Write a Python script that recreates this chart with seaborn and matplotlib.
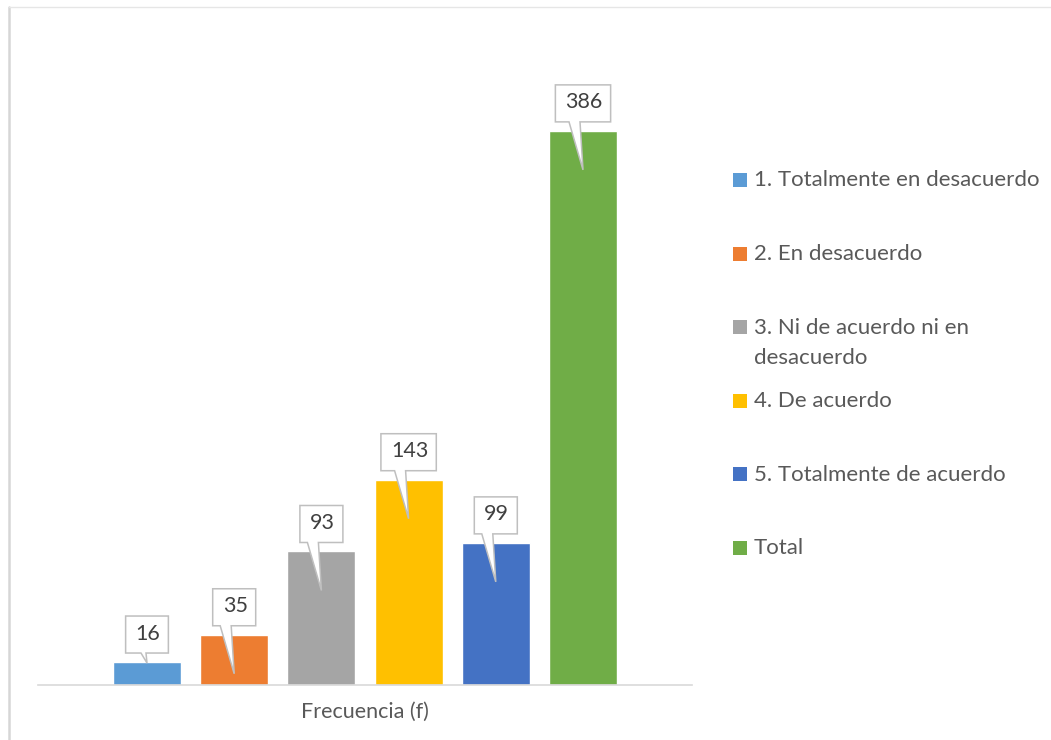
import numpy as np
import pandas as pd
import matplotlib
matplotlib.use("Agg")
import matplotlib.pyplot as plt
from matplotlib.patches import Polygon, Rectangle
from matplotlib.lines import Line2D
import seaborn as sns

# ---- data ----
categoria = "Frecuencia (f)"
respuestas = [
    "1. Totalmente en desacuerdo",
    "2. En desacuerdo",
    "3. Ni de acuerdo ni en\ndesacuerdo",
    "4. De acuerdo",
    "5. Totalmente de acuerdo",
    "Total",
]
frecuencias = [16, 35, 93, 143, 99, 386]
colores = ["#5B9BD5", "#ED7D31", "#A5A5A5", "#FFC000", "#4472C4", "#70AD47"]

sns.set_style("white")
plt.rcParams["font.family"] = ["Lato", "DejaVu Sans"]
TXT = "#595959"

W, H = 1051, 740
fig = plt.figure(figsize=(W / 100, H / 100), dpi=100)
fig.patch.set_facecolor("white")

# plot area (pixel layout)
ax_l, ax_r, ax_t, ax_b = 38, 692, 39, 685
ax = fig.add_axes([ax_l / W, (H - ax_b) / H, (ax_r - ax_l) / W, (ax_b - ax_t) / H])

df = pd.DataFrame({
    "grupo": [categoria] * len(respuestas),
    "respuesta": respuestas,
    "f": frecuencias,
})
sns.barplot(data=df, x="grupo", y="f", hue="respuesta", hue_order=respuestas,
            palette=colores, saturation=1, width=0.8, gap=0.22,
            errorbar=None, legend=False, ax=ax)

ax.set_xlim(-0.5, 0.5)
ax.set_ylim(0, 450)
ax.set_xlabel("")
ax.set_ylabel("")
ax.set_yticks([])
for s in ["top", "right", "left"]:
    ax.spines[s].set_visible(False)
ax.spines["bottom"].set_color("#D9D9D9")
ax.spines["bottom"].set_linewidth(1.2)
ax.tick_params(axis="x", length=0, pad=12, labelsize=15.5, labelcolor=TXT)
ax.set_facecolor("none")

# ---- callout data labels ----
fig.canvas.draw()
renderer = fig.canvas.get_renderer()
inv = fig.transFigure.inverted()
y0_px = ax.transData.transform((0, 0))[1]

bars = [p for p in ax.patches if p.get_height() > 0]
bars = sorted(bars, key=lambda p: p.get_x())
for bar, val in zip(bars, frecuencias):
    cx = bar.get_x() + bar.get_width() / 2
    px, py = ax.transData.transform((cx, bar.get_height()))
    yb = py + 9
    bh = 37
    t = fig.text(0, 0, f"{val}", fontsize=15.5, color="#404040",
                 ha="center", va="center", zorder=6)
    t.set_position(inv.transform((px + 1, yb + bh / 2 + 1)))
    tw = t.get_window_extent(renderer).width
    hw = tw / 2 + 9
    if py - y0_px > 40:
        depth, b1, b2 = 39, -14, -3
    else:
        depth, b1, b2 = 1, -6, -1
    verts = [
        (px - hw, yb), (px + b1, yb), (px, py - depth), (px + b2, yb),
        (px + hw, yb), (px + hw, yb + bh), (px - hw, yb + bh),
    ]
    verts = inv.transform(np.array(verts))
    poly = Polygon(verts, closed=True, facecolor="white", edgecolor="#BFBFBF",
                   linewidth=1.1, joinstyle="miter", transform=fig.transFigure,
                   zorder=5)
    fig.add_artist(poly)

# ---- legend (Excel-style, right side) ----
leg_y0 = 180
leg_step = 73.6
line_gap = 30
for i, (lab, col) in enumerate(zip(respuestas, colores)):
    yc = leg_y0 + i * leg_step
    sq = Rectangle(((733) / W, (H - yc - 7) / H), 14 / W, 14 / H,
                   facecolor=col, edgecolor="none", transform=fig.transFigure)
    fig.add_artist(sq)
    for k, line in enumerate(lab.split("\n")):
        fig.text(754 / W, (H - yc - 6.5 - k * line_gap) / H, line, fontsize=16,
                 color=TXT, ha="left", va="baseline")

# ---- chart border ----
fig.add_artist(Line2D([8.5 / W, 8.5 / W], [0, (H - 7) / H], color="#D6D6D6",
                      linewidth=1.8, transform=fig.transFigure))
fig.add_artist(Line2D([8.5 / W, 1.0], [(H - 7) / H, (H - 7) / H], color="#E6E6E6",
                      linewidth=1.0, transform=fig.transFigure))

fig.savefig("out.png", dpi=100)
